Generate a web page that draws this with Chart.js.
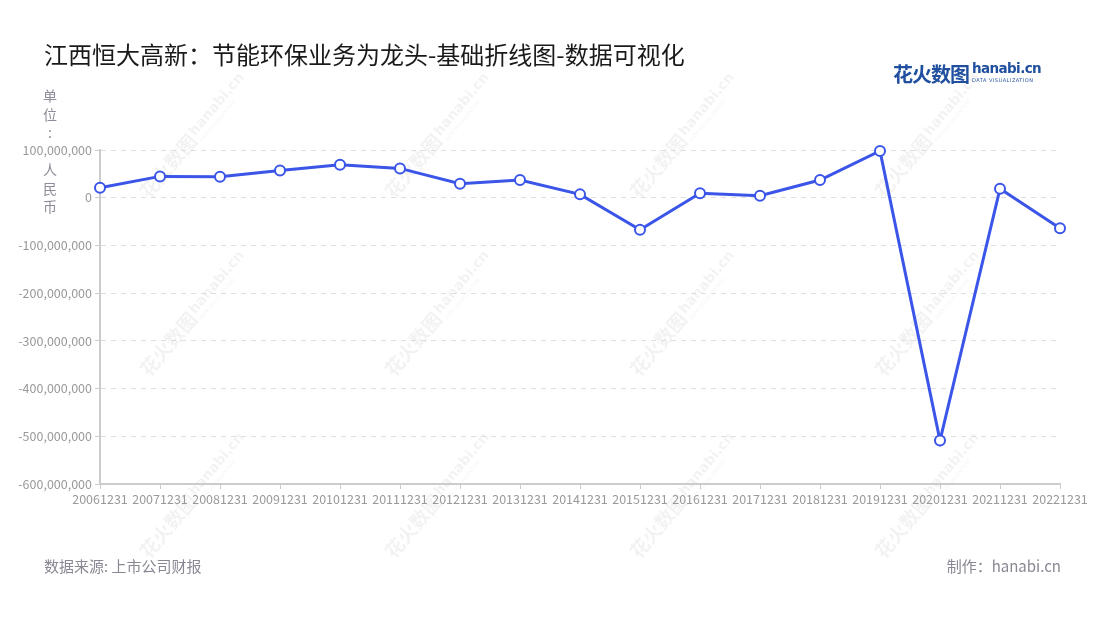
<!DOCTYPE html>
<html>
<head>
<meta charset="utf-8">
<script src="https://cdn.jsdelivr.net/npm/chart.js@4/dist/chart.umd.min.js"></script>
<style>
  html, body { margin: 0; padding: 0; background: #fff; }
  body { width: 1100px; height: 620px; position: relative; overflow: hidden; font-family: "Noto Sans CJK SC", "Noto Sans", sans-serif; }
  #chart { position: absolute; left: 0; top: 0; }
  .title { position: absolute; left: 44px; top: 36px; font-size: 24px; color: #1a1a1a; white-space: nowrap; }
  .logo { position: absolute; left: 893px; top: 59px; white-space: nowrap; }
  .logo .cn { font-size: 20px; font-weight: bold; color: #1f4f9e; letter-spacing: -1px; vertical-align: top; }
  .logo .en { display: inline-block; margin-left: 3px; vertical-align: top; line-height: 1; }
  .logo .en b { display: block; font-family: "DejaVu Sans", sans-serif; font-size: 13.5px; color: #1f4f9e; letter-spacing: -0.6px; margin-top: 3px; }
  .logo .en i { display: block; font-style: normal; font-family: "DejaVu Sans", sans-serif; font-size: 5px; color: #1f4f9e; letter-spacing: 0.5px; margin-top: 2px; }
  .source { position: absolute; left: 44px; top: 555px; font-size: 15px; color: #888894; }
  .maker { position: absolute; right: 39px; top: 555px; font-size: 15px; color: #888894; }
</style>
</head>
<body>
<canvas id="chart" width="1100" height="620"></canvas>
<div class="title">江西恒大高新：节能环保业务为龙头-基础折线图-数据可视化</div>
<div class="logo"><span class="cn">花火数图</span><span class="en"><b>hanabi.cn</b><i>DATA VISUALIZATION</i></span></div>
<div class="source">数据来源: 上市公司财报</div>
<div class="maker">制作：hanabi.cn</div>
<script>
// data
const categories = ['20061231', '20071231', '20081231', '20091231', '20101231', '20111231',
  '20121231', '20131231', '20141231', '20151231', '20161231', '20171231', '20181231',
  '20191231', '20201231', '20211231', '20221231'];
const profit = [20900000, 44700000, 43800000, 57200000, 68900000, 61400000, 29200000,
  37000000, 7000000, -67400000, 9200000, 4200000, 37000000, 98000000, -509000000,
  18800000, -64000000];
const yMin = -600000000;
const yMax = 100000000;
const yStep = 100000000;
const yTitle = ['单', '位', ':', '', '人', '民', '币'];

const lineColor = '#3a55e8';
const fontFamily = '"Noto Sans CJK SC", "Noto Sans", sans-serif';

// white background + faint watermarks behind the line
const backdrop = {
  id: 'backdrop',
  beforeDraw(chart) {
    const ctx = chart.ctx;
    ctx.save();
    ctx.fillStyle = '#fff';
    ctx.fillRect(0, 0, chart.width, chart.height);
    const cols = [190, 435, 680, 925];
    const rows = [140, 318, 500];
    rows.forEach(function(y) {
      cols.forEach(function(x) {
        ctx.save();
        ctx.translate(x, y);
        ctx.rotate(-50 * Math.PI / 180);
        ctx.fillStyle = 'rgba(0,0,0,0.05)';
        ctx.textBaseline = 'middle';
        ctx.font = 'bold 19px ' + fontFamily;
        ctx.fillText('花火数图', -72, 0);
        ctx.font = 'bold 14px "DejaVu Sans", sans-serif';
        ctx.fillText('hanabi.cn', 6, -2);
        ctx.font = '5px "DejaVu Sans", sans-serif';
        ctx.fillText('DATA VISUALIZATION', 6, 9);
        ctx.restore();
      });
    });
    ctx.restore();
  },
  afterDraw(chart) {
    const ctx = chart.ctx;
    ctx.save();
    ctx.fillStyle = '#8d8d99';
    ctx.font = '14px ' + fontFamily;
    ctx.textAlign = 'center';
    ctx.textBaseline = 'middle';
    yTitle.forEach(function(ch, i) {
      if (ch) ctx.fillText(ch, 50, 96 + i * 18.5);
    });
    ctx.restore();
  }
};

new Chart(document.getElementById('chart'), {
  type: 'line',
  data: {
    labels: categories,
    datasets: [{
      data: profit,
      borderColor: lineColor,
      borderWidth: 3,
      pointRadius: 5,
      pointHoverRadius: 5,
      pointBorderWidth: 2,
      pointBackgroundColor: '#fff',
      pointBorderColor: lineColor,
      tension: 0,
      clip: false
    }]
  },
  options: {
    responsive: false,
    animation: false,
    events: [],
    layout: { padding: { left: 0, right: 40, top: 150, bottom: 96 } },
    plugins: { legend: { display: false }, tooltip: { enabled: false } },
    scales: {
      x: {
        offset: false,
        afterFit: function(scale) { scale.height = 40; },
        grid: { drawOnChartArea: false, drawTicks: true, tickLength: 5, color: '#cccccc' },
        border: { color: '#cccccc', width: 2 },
        ticks: { color: '#999', font: { family: fontFamily, size: 12.5 }, maxRotation: 0, autoSkip: false, padding: 3 }
      },
      y: {
        min: yMin,
        max: yMax,
        afterFit: function(scale) { scale.width = 100; },
        grid: { color: '#dedede', tickColor: '#cccccc', tickLength: 5, tickBorderDash: [] },
        border: { color: '#cccccc', width: 2, dash: [5, 5] },
        ticks: {
          stepSize: yStep,
          color: '#999',
          padding: 3,
          font: { family: fontFamily, size: 12.5 },
          callback: function(v) { return v.toLocaleString('en-US'); }
        }
      }
    }
  },
  plugins: [backdrop]
});
</script>
</body>
</html>
